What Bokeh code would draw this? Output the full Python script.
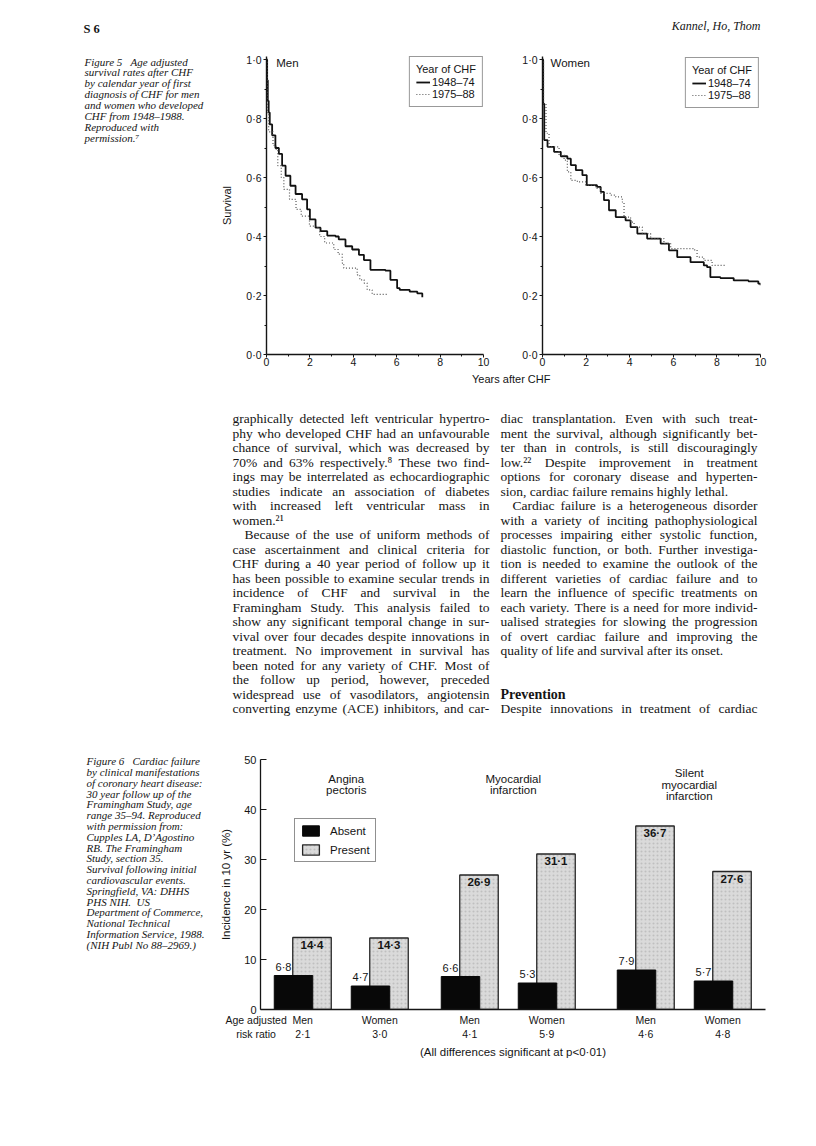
from bokeh.plotting import figure
from bokeh.models import (Range1d, FixedTicker, CustomJSTickFormatter, Legend,
                          LegendItem)
from bokeh.layouts import row, column
from bokeh.embed import file_html
from bokeh.resources import INLINE
from bokeh.core.properties import value

# ---------------- data: Figure 5 (Kaplan-Meier survival after CHF) ----------------
period_labels = ["1948–74", "1975–88"]

men_old_t = [0, 0.03, 0.06, 0.10, 0.15, 0.26, 0.41, 0.57, 0.72, 0.88, 1.10, 1.34, 1.64,
             1.87, 2.00, 2.26, 2.49, 2.80, 3.18, 3.33, 3.64, 3.95, 4.26, 4.49, 4.79,
             5.48, 5.71, 6.02, 6.14, 6.60, 6.95, 7.18]
men_old_s = [1.0, 0.93, 0.86, 0.82, 0.78, 0.743, 0.70, 0.68, 0.64, 0.606, 0.572, 0.544,
             0.526, 0.492, 0.458, 0.43, 0.418, 0.403, 0.40, 0.39, 0.367, 0.356, 0.338,
             0.32, 0.287, 0.284, 0.253, 0.225, 0.219, 0.213, 0.207, 0.194]

men_new_t = [0, 0.04, 0.10, 0.30, 0.45, 0.52, 0.68, 0.80, 1.06, 1.36, 1.60, 1.98, 2.29,
             2.45, 2.68, 3.10, 3.30, 3.49, 3.56, 4.18, 4.30, 4.50, 4.64, 4.87, 5.60]
men_new_s = [1.0, 0.82, 0.755, 0.709, 0.692, 0.64, 0.60, 0.56, 0.526, 0.492, 0.469,
             0.435, 0.43, 0.40, 0.378, 0.356, 0.34, 0.31, 0.293, 0.27, 0.253, 0.242,
             0.219, 0.204, 0.204]

women_old_t = [0, 0.03, 0.08, 0.23, 0.53, 0.84, 1.14, 1.30, 1.53, 1.83, 2.03, 2.50, 2.67,
               2.82, 3.05, 3.36, 3.81, 4.04, 4.35, 4.80, 5.42, 5.80, 6.18, 6.79, 7.40,
               7.55, 7.70, 8.16, 8.77, 9.45, 9.90, 10.0]
women_old_s = [1.0, 0.85, 0.727, 0.704, 0.687, 0.672, 0.664, 0.642, 0.625, 0.608, 0.574,
               0.568, 0.551, 0.523, 0.489, 0.466, 0.455, 0.432, 0.41, 0.393, 0.376,
               0.353, 0.33, 0.313, 0.302, 0.296, 0.262, 0.259, 0.251, 0.248, 0.24, 0.235]

women_new_t = [0, 0.05, 0.16, 0.30, 0.76, 0.99, 1.14, 1.30, 1.60, 1.98, 2.44, 2.67, 3.13,
               3.36, 3.66, 3.74, 4.04, 4.20, 4.58, 4.96, 5.57, 5.88, 6.94, 7.09, 7.40,
               7.78, 8.39]
women_new_s = [1.0, 0.85, 0.75, 0.704, 0.676, 0.659, 0.619, 0.59, 0.585, 0.574, 0.563,
               0.546, 0.54, 0.534, 0.517, 0.466, 0.449, 0.432, 0.41, 0.393, 0.376, 0.359,
               0.355, 0.33, 0.319, 0.302, 0.302]

# ---------------- data: Figure 6 (bars) ----------------
bar_categories = [["Angina", "pectoris"], ["Myocardial", "infarction"],
                  ["Silent", "myocardial", "infarction"]]
bar_sex = ["Men", "Women", "Men", "Women", "Men", "Women"]
absent_vals = [6.8, 4.7, 6.6, 5.3, 7.9, 5.7]
present_vals = [14.4, 14.3, 26.9, 31.1, 36.7, 27.6]
risk_ratio = ["2·1", "3·0", "4·1", "5·9", "4·6", "4·8"]

# ---------------- page texts ----------------
caption5 = ["Figure 5\u00a0\u00a0\u00a0Age adjusted", "survival rates after CHF",
            "by calendar year of first", "diagnosis of CHF for men",
            "and women who developed", "CHF from 1948–1988.", "Reproduced with",
            "permission.⁷"]
caption6 = ["Figure 6\u00a0\u00a0\u00a0Cardiac failure", "by clinical manifestations",
            "of coronary heart disease:", "30 year follow up of the",
            "Framingham Study, age", "range 35–94. Reproduced",
            "with permission from:", "Cupples LA, D’Agostino", "RB. The Framingham",
            "Study, section 35.", "Survival following initial",
            "cardiovascular events.", "Springfield, VA: DHHS",
            "PHS NIH.\u00a0\u00a0US", "Department of Commerce,", "National Technical",
            "Information Service, 1988.", "(NIH Publ No 88–2969.)"]

left_lines = [
    ("graphically detected left ventricular hypertro-", True, 0),
    ("phy who developed CHF had an unfavourable", True, 0),
    ("chance of survival, which was decreased by", True, 0),
    ("70% and 63% respectively.⁸ These two find-", True, 0),
    ("ings may be interrelated as echocardiographic", True, 0),
    ("studies indicate an association of diabetes", True, 0),
    ("with increased left ventricular mass in", True, 0),
    ("women.²¹", False, 0),
    ("Because of the use of uniform methods of", True, 1),
    ("case ascertainment and clinical criteria for", True, 0),
    ("CHF during a 40 year period of follow up it", True, 0),
    ("has been possible to examine secular trends in", True, 0),
    ("incidence of CHF and survival in the", True, 0),
    ("Framingham Study. This analysis failed to", True, 0),
    ("show any significant temporal change in sur-", True, 0),
    ("vival over four decades despite innovations in", True, 0),
    ("treatment. No improvement in survival has", True, 0),
    ("been noted for any variety of CHF. Most of", True, 0),
    ("the follow up period, however, preceded", True, 0),
    ("widespread use of vasodilators, angiotensin", True, 0),
    ("converting enzyme (ACE) inhibitors, and car-", True, 0),
]
right_lines = [
    ("diac transplantation. Even with such treat-", True, 0),
    ("ment the survival, although significantly bet-", True, 0),
    ("ter than in controls, is still discouragingly", True, 0),
    ("low.²² Despite improvement in treatment", True, 0),
    ("options for coronary disease and hyperten-", True, 0),
    ("sion, cardiac failure remains highly lethal.", False, 0),
    ("Cardiac failure is a heterogeneous disorder", True, 1),
    ("with a variety of inciting pathophysiological", True, 0),
    ("processes impairing either systolic function,", True, 0),
    ("diastolic function, or both. Further investiga-", True, 0),
    ("tion is needed to examine the outlook of the", True, 0),
    ("different varieties of cardiac failure and to", True, 0),
    ("learn the influence of specific treatments on", True, 0),
    ("each variety. There is a need for more individ-", True, 0),
    ("ualised strategies for slowing the progression", True, 0),
    ("of overt cardiac failure and improving the", True, 0),
    ("quality of life and survival after its onset.", False, 0),
]
heading = "Prevention"
after_heading = "Despite innovations in treatment of cardiac"

# ---------------- style constants ----------------
SERIF = "Liberation Serif"
SANS = "Liberation Sans"
INK = "#151515"

TW = dict(a=444, b=500, c=444, d=500, e=444, f=333, g=500, h=500, i=278, j=278, k=500,
          l=278, m=778, n=500, o=500, p=500, q=500, r=333, s=389, t=278, u=500, v=500,
          w=722, x=500, y=500, z=444,
          A=722, B=667, C=667, D=722, E=611, F=556, G=722, H=722, I=333, J=389, K=722,
          L=611, M=889, N=722, O=722, P=556, Q=722, R=667, S=556, T=611, U=722, V=722,
          W=944, X=722, Y=722, Z=611)
TW.update({" ": 250, ".": 250, ",": 250, "-": 333, "(": 333, ")": 333, "%": 833,
           ":": 278, ";": 278, "’": 333, "–": 500, "²": 300, "¹": 300, "⁸": 300})


def tw(s, size):
    return sum(TW.get(c, 500) for c in s) * size / 1000.0


def panel(x0, y0, x1, y1):
    p = figure(width=x1 - x0, height=y1 - y0, x_range=Range1d(x0, x1),
               y_range=Range1d(y1, y0), x_axis_type=None, y_axis_type=None,
               toolbar_location=None, output_backend="svg", min_border=0,
               outline_line_color=None, frame_align=False)
    return p


def put(p, xs, ys, texts, font=SERIF, size="11px", style="normal", align="left",
        baseline="middle", color=INK):
    p.text(x=xs, y=ys, text=texts, text_font=value(font), text_font_size=value(size),
           text_font_style=style, text_align=align, text_baseline=baseline,
           text_color=color)


def justify(lines, x0, x1, y0, step, size, indent_px):
    xs, ys, ws = [], [], []
    for k, (txt, just, ind) in enumerate(lines):
        words = txt.split(" ")
        wid = [tw(w, size) for w in words]
        start = x0 + ind * indent_px
        if just and len(words) > 1:
            gap = max((x1 - start - sum(wid)) / (len(words) - 1), 0.15 * size)
        else:
            gap = 0.25 * size
        x = start
        for w, wd in zip(words, wid):
            xs.append(x)
            ys.append(y0 + k * step)
            ws.append(w)
            x += wd + gap
    return xs, ys, ws


# ---------------- header ----------------
hdr = panel(0, 0, 816, 45)
put(hdr, [83], [28], ["S 6"], font=SERIF, size="12.5px", style="bold")
put(hdr, [760], [25], ["Kannel, Ho, Thom"], font=SERIF, size="12px", style="italic",
    align="right")

# ---------------- caption 5 ----------------
cap5 = panel(0, 45, 215, 370)
put(cap5, [84] * len(caption5), [61 + i * 10.93 for i in range(len(caption5))], caption5,
    font=SERIF, size="11px", style="italic")


# ---------------- survival charts ----------------
def surv_fig(width, bl, br, title_txt, t_old, s_old, t_new, s_new, ylabel, lab_x,
             legend_margin):
    p = figure(width=width, height=325, x_range=Range1d(0, 10),
               y_range=Range1d(0, 1.0102), min_border_left=bl, min_border_right=br,
               min_border_top=11, min_border_bottom=16, toolbar_location=None,
               output_backend="svg", outline_line_color=None, frame_align=False)
    p.grid.visible = False
    p.xaxis.ticker = FixedTicker(ticks=[0, 2, 4, 6, 8, 10], minor_ticks=[1, 3, 5, 7, 9])
    p.yaxis.ticker = FixedTicker(ticks=[0.0, 0.2, 0.4, 0.6, 0.8, 1.0],
                                 minor_ticks=[0.1, 0.3, 0.5, 0.7, 0.9])
    p.yaxis.formatter = CustomJSTickFormatter(
        code="return tick.toFixed(1).replace('.', '\u00b7');")
    for ax in (p.xaxis[0], p.yaxis[0]):
        ax.axis_line_width = 1.4
        ax.axis_line_color = INK
        ax.major_tick_line_color = INK
        ax.minor_tick_line_color = INK
        ax.major_tick_in = 0
        ax.major_tick_out = 3
        ax.minor_tick_in = 0
        ax.minor_tick_out = 2
        ax.major_label_text_font = SANS
        ax.major_label_text_font_size = "10.5px"
        ax.major_label_text_color = INK
    p.xaxis.major_label_standoff = 0
    p.yaxis.major_label_standoff = 2
    if ylabel:
        p.yaxis.axis_label = ylabel
        p.yaxis.axis_label_text_font = SANS
        p.yaxis.axis_label_text_font_size = "11px"
        p.yaxis.axis_label_text_font_style = "normal"
        p.yaxis.axis_label_text_color = INK
        p.yaxis.axis_label_standoff = 10
    r1 = p.step(t_old, s_old, mode="after", line_color="#111111", line_width=1.8)
    r2 = p.step(t_new, s_new, mode="after", line_color="#555555", line_width=1.2,
                line_dash="1 2")
    p.text(x=[lab_x], y=[0.988], text=[title_txt], text_font=value(SANS),
           text_font_size=value("11.5px"), text_baseline="middle", text_color=INK)
    leg = Legend(items=[LegendItem(label=period_labels[0], renderers=[r1]),
                        LegendItem(label=period_labels[1], renderers=[r2])],
                 title="Year of CHF", location="top_right")
    leg.title_text_font = SANS
    leg.title_text_font_size = "11px"
    leg.title_text_font_style = "normal"
    leg.title_text_color = INK
    leg.label_text_font = SANS
    leg.label_text_font_size = "11px"
    leg.label_text_color = INK
    leg.padding = 6
    leg.spacing = 0
    leg.margin = legend_margin
    leg.border_line_color = "#333333"
    leg.border_line_width = 1
    leg.glyph_width = 14
    leg.glyph_height = 12
    leg.label_height = 12
    leg.label_standoff = 2
    leg.title_standoff = 1
    leg.background_fill_color = "white"
    leg.background_fill_alpha = 1
    p.add_layout(leg)
    return p


men = surv_fig(297, 51, 29, "Men", men_old_t, men_old_s, men_new_t, men_new_s,
               "Survival", 0.45, 0)
women = surv_fig(304, 30, 56, "Women", women_old_t, women_old_s, women_new_t,
                 women_new_s, None, 0.37, 1)

# ---------------- body text ----------------
mid = panel(0, 370, 816, 745)
put(mid, [471.5], [378], ["Years after CHF"], font=SANS, size="11px")
BODY = 13.5
LEAD = 14.5
LEFT_COL = (232, 489)
RIGHT_COL = (500, 757)
xs, ys, ws = justify(left_lines, LEFT_COL[0], LEFT_COL[1], 418.3, LEAD, BODY, 12)
put(mid, xs, ys, ws, size="%.1fpx" % BODY)
xs, ys, ws = justify(right_lines, RIGHT_COL[0], RIGHT_COL[1], 418.3, LEAD, BODY, 12)
put(mid, xs, ys, ws, size="%.1fpx" % BODY)
put(mid, [RIGHT_COL[0]], [418.3 + 19 * LEAD], [heading], size="14px", style="bold")
xs, ys, ws = justify([(after_heading, True, 0)], RIGHT_COL[0], RIGHT_COL[1],
                     418.3 + 20 * LEAD, LEAD, BODY, 12)
put(mid, xs, ys, ws, size="%.1fpx" % BODY)

# ---------------- caption 6 ----------------
cap6 = panel(0, 745, 215, 1140)
put(cap6, [86] * len(caption6), [760.7 + i * 10.8 for i in range(len(caption6))],
    caption6, font=SERIF, size="11px", style="italic")

# ---------------- bar chart ----------------
GROUP_X = [33, 200, 376]   # layout: first bar centre of each group (px from axis)
PAIR_STEP = 77
OFFSET = 18.5
BAR_W = 38.5
absent_x = [GROUP_X[i // 2] + (i % 2) * PAIR_STEP for i in range(len(absent_vals))]
present_x = [a + OFFSET for a in absent_x]
tick_x = [a + OFFSET / 2 for a in absent_x]


def fmt(v):
    return ("%.1f" % v).replace(".", "·")


bar = figure(width=601, height=395, x_range=Range1d(0, 505), y_range=Range1d(0, 50),
             min_border_left=45, min_border_right=51, min_border_top=14,
             min_border_bottom=131, toolbar_location=None, output_backend="svg",
             outline_line_color=None, frame_align=False)
bar.grid.visible = False
rp = bar.vbar(x=present_x, top=present_vals, width=BAR_W, fill_color="#dadada",
              line_color="#262626", line_width=1.3, hatch_pattern="dot",
              hatch_color="#8c8c8c", hatch_scale=4, hatch_alpha=0.35)
ra = bar.vbar(x=absent_x, top=absent_vals, width=BAR_W, fill_color="#080808",
              line_color="#080808", line_width=1)

bar.text(x=present_x, y=[v - 1.45 for v in present_vals], text=[fmt(v) for v in present_vals],
         text_font=value(SANS), text_font_size=value("11.5px"), text_font_style="bold",
         text_align="center", text_baseline="middle", text_color=INK)
bar.text(x=[a - 10 for a in absent_x], y=[v + 1.75 for v in absent_vals],
         text=[fmt(v) for v in absent_vals], text_font=value(SANS),
         text_font_size=value("11px"), text_align="center", text_baseline="middle",
         text_color=INK)

cx, cy, ct = [], [], []
for g, lines in enumerate(bar_categories):
    mx = (tick_x[2 * g] + tick_x[2 * g + 1]) / 2 + 5
    n = len(lines)
    for k, ln in enumerate(lines):
        cx.append(mx)
        cy.append(45.0 + (n - 1) / 2 * 2.34 - k * 2.34)
        ct.append(ln)
bar.text(x=cx, y=cy, text=ct, text_font=value(SANS), text_font_size=value("11.5px"),
         text_align="center", text_baseline="middle", text_color=INK)

bar.yaxis.ticker = FixedTicker(ticks=[0, 10, 20, 30, 40, 50])
bar.xaxis.ticker = FixedTicker(ticks=[0] + tick_x)
pad = "\u00a0" * 3
overrides = {0: "Age adjusted%s\nrisk ratio%s" % (pad, pad)}
overrides.update({t: "%s\n%s" % (s, r) for t, s, r in zip(tick_x, bar_sex, risk_ratio)})
bar.xaxis.major_label_overrides = overrides
for ax in (bar.xaxis[0], bar.yaxis[0]):
    ax.axis_line_width = 1.3
    ax.axis_line_color = INK
    ax.major_tick_line_color = INK
    ax.minor_tick_in = 0
    ax.minor_tick_out = 0
    ax.major_label_text_font = SANS
    ax.major_label_text_color = INK
bar.yaxis.major_tick_in = 6
bar.yaxis.major_tick_out = 0
bar.yaxis.major_label_text_font_size = "11px"
bar.yaxis.major_label_standoff = 4
bar.yaxis.axis_label = "Incidence in 10 yr (%)"
bar.yaxis.axis_label_text_font = SANS
bar.yaxis.axis_label_text_font_size = "11.5px"
bar.yaxis.axis_label_text_font_style = "normal"
bar.yaxis.axis_label_text_color = INK
bar.yaxis.axis_label_standoff = 9
bar.xaxis.major_tick_in = 0
bar.xaxis.major_tick_out = 0
bar.xaxis.major_label_text_font_size = "10.5px"
bar.xaxis.major_label_standoff = 4
bar.xaxis.axis_label = "(All differences significant at p<0·01)"
bar.xaxis.axis_label_text_font = SANS
bar.xaxis.axis_label_text_font_size = "11.5px"
bar.xaxis.axis_label_text_font_style = "normal"
bar.xaxis.axis_label_text_color = INK
bar.xaxis.axis_label_standoff = 3

bleg = Legend(items=[LegendItem(label="Absent", renderers=[ra]),
                     LegendItem(label="Present", renderers=[rp])],
              location=(34, 147))
bleg.label_text_font = SANS
bleg.label_text_font_size = "11.5px"
bleg.label_text_color = INK
bleg.padding = 5
bleg.spacing = 6
bleg.margin = 0
bleg.glyph_width = 21
bleg.glyph_height = 13
bleg.label_height = 13
bleg.label_standoff = 9
bleg.border_line_color = "#222222"
bleg.border_line_width = 1.2
bleg.background_fill_color = "white"
bar.add_layout(bleg)

page = column(hdr, row(cap5, men, women), mid, row(cap6, bar))
open("out.html", "w").write(file_html(page, INLINE, "Figure"))
